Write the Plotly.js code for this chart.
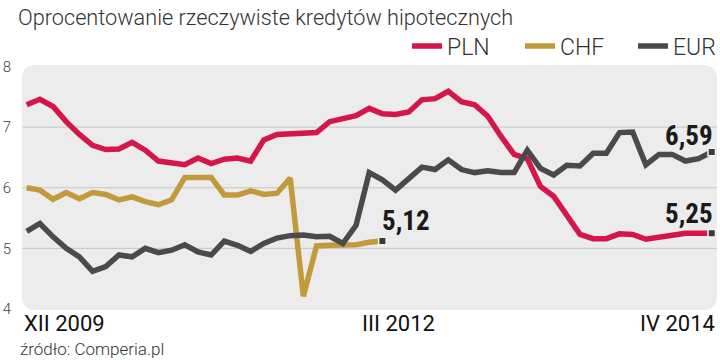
<!DOCTYPE html>
<html><head><meta charset="utf-8">
<script src="https://cdn.plot.ly/plotly-3.0.1.min.js"></script>
<style>html,body{margin:0;padding:0;background:#fff}#chart{width:720px;height:360px}</style>
</head><body><div id="chart"></div>
<script>
const titleText = 'Oprocentowanie rzeczywiste kredytów hipotecznych';
const sourceText = 'źródło: Comperia.pl';
const seriesNames = ['PLN', 'CHF', 'EUR'];
const seriesColors = ['#d4164a', '#c19a3b', '#4a4a4c'];

// monthly, XII 2009 .. IV 2014
const pln = [7.37, 7.46, 7.34, 7.09, 6.88, 6.70, 6.63, 6.64, 6.75, 6.62,
             6.44, 6.42, 6.38, 6.49, 6.40, 6.47, 6.49, 6.44, 6.79, 6.88,
             6.89, 6.88, 6.91, 7.09, 7.13, 7.19, 7.31, 7.22, 7.21, 7.25,
             7.45, 7.47, 7.59, 7.42, 7.37, 7.18, 6.85, 6.55, 6.48, 6.02,
             5.86, 5.53, 5.23, 5.16, 5.16, 5.24, 5.23, 5.15, 5.18, 5.21,
             5.25, 5.25, 5.25];
const chf = [6.00, 5.96, 5.81, 5.92, 5.82, 5.92, 5.89, 5.80, 5.85, 5.77,
             5.72, 5.80, 6.17, 6.17, 6.17, 5.88, 5.88, 5.95, 5.89, 5.91,
             6.16, 4.21, 5.04, 5.05, 5.06, 5.06, 5.10, 5.12];
const eur = [5.28, 5.41, 5.19, 5.00, 4.86, 4.62, 4.70, 4.89, 4.86, 5.00,
             4.93, 4.97, 5.06, 4.94, 4.89, 5.12, 5.05, 4.95, 5.08, 5.17,
             5.21, 5.22, 5.19, 5.20, 5.08, 5.38, 6.25, 6.13, 5.96, 6.14,
             6.34, 6.30, 6.46, 6.30, 6.25, 6.28, 6.25, 6.25, 6.62, 6.32,
             6.21, 6.37, 6.36, 6.57, 6.57, 6.91, 6.92, 6.38, 6.55, 6.55,
             6.44, 6.48, 6.59];
const xTickIdx = [0, 27, 52];
const xTickText = ['XII 2009', 'III 2012', 'IV 2014'];
const yTicks = [4, 5, 6, 7, 8];
const gridVals = [5, 6, 7];

const FONT_C = '"Roboto Condensed", "Liberation Sans Narrow", "DejaVu Sans Condensed", Roboto, sans-serif';
const FONT_R = 'Roboto, "Open Sans", sans-serif';
const idx = arr => arr.map((_, i) => i);
const fmt = v => v.toFixed(2).replace('.', ',');

const seriesData = [pln, chf, eur];
const traces = seriesData.map((d, k) => ({
  type: 'scatter', mode: 'lines', name: seriesNames[k],
  x: idx(d), y: d,
  line: {color: seriesColors[k], width: 5.5},
  hoverinfo: 'skip'
}));
const ends = [chf, eur, pln];
traces.push({
  type: 'scatter', mode: 'markers', showlegend: false, hoverinfo: 'skip',
  x: ends.map(d => d.length - 1), y: ends.map(d => d[d.length - 1]),
  marker: {symbol: 'square', size: 7.5, color: '#3a3a3a', line: {color: '#f4f4f4', width: 1.5}}
});

const W = 695, H = 245, R = 14;
const rx = R / W, ry = R / H;
const bgPath = `M ${rx},0 L ${1-rx},0 Q 1,0 1,${ry} L 1,${1-ry} Q 1,1 ${1-rx},1 L ${rx},1 Q 0,1 0,${1-ry} L 0,${ry} Q 0,0 ${rx},0 Z`;

const shapes = [{type: 'path', xref: 'paper', yref: 'paper', path: bgPath,
  fillcolor: '#ececec', line: {width: 0}, layer: 'below'}];
gridVals.forEach(v => shapes.push({type: 'line', xref: 'paper', yref: 'y',
  x0: 0, x1: 1, y0: v, y1: v, line: {color: '#c6c6c6', width: 1}, layer: 'below'}));

const annotations = [];
const valFont = {family: FONT_C, size: 27, color: '#1a1a1a', weight: 700};
annotations.push({x: chf.length - 1, y: chf[chf.length - 1], text: fmt(chf[chf.length - 1]),
  showarrow: false, xanchor: 'center', yanchor: 'middle', xshift: 24, yshift: 20, font: valFont});
annotations.push({x: eur.length - 1, y: eur[eur.length - 1], text: fmt(eur[eur.length - 1]),
  showarrow: false, xanchor: 'right', yanchor: 'middle', xshift: 3, yshift: 16, font: valFont});
annotations.push({x: pln.length - 1, y: pln[pln.length - 1], text: fmt(pln[pln.length - 1]),
  showarrow: false, xanchor: 'right', yanchor: 'middle', xshift: 3, yshift: 19, font: valFont});
// x labels
const xAnch = ['left', 'center', 'right'];
const xSh = [-5, 16, 5];
xTickIdx.forEach((v, i) => annotations.push({x: v, xref: 'x', y: -0.057, yref: 'paper',
  text: xTickText[i], showarrow: false, xanchor: xAnch[i], yanchor: 'middle', xshift: xSh[i],
  font: {family: FONT_R, size: 22, color: '#111', weight: 400}}));
annotations.push({x: 0, xref: 'paper', xshift: -4, y: -0.159, yref: 'paper', text: sourceText,
  showarrow: false, xanchor: 'left', yanchor: 'middle',
  font: {family: FONT_R, size: 17, color: '#333', weight: 300}});

const layout = {
  width: 720, height: 360,
  margin: {l: 22, r: 3, t: 65, b: 50, pad: 0, autoexpand: false},
  paper_bgcolor: '#ffffff', plot_bgcolor: 'rgba(0,0,0,0)',
  font: {family: FONT_R, color: '#333'},
  title: {text: titleText, x: 18 / 720, xref: 'container', xanchor: 'left',
    y: 1 - 17 / 360, yref: 'container', yanchor: 'middle',
    font: {family: FONT_R, size: 21.7, color: '#333', weight: 300}},
  showlegend: true,
  legend: {orientation: 'h', x: 1 + 29 / 695, xanchor: 'right', y: 1 + 19 / 245, yanchor: 'middle',
    font: {family: FONT_R, size: 23, color: '#333', weight: 300}, itemwidth: 30,
    entrywidth: 68, entrywidthmode: 'pixels', bgcolor: 'rgba(0,0,0,0)'},
  xaxis: {range: [-0.357, 52.40], showgrid: false, zeroline: false, showline: false,
    showticklabels: false, ticks: '', fixedrange: true},
  yaxis: {range: [3.983, 8.025], tickvals: yTicks, ticktext: yTicks.map(String),
    showgrid: false, zeroline: false, showline: false, ticks: '',
    tickfont: {family: FONT_R, size: 15, color: '#444', weight: 300}, ticklabelstandoff: 10, fixedrange: true},
  shapes: shapes,
  annotations: annotations
};
Plotly.newPlot('chart', traces, layout, {displayModeBar: false, staticPlot: true});
</script></body></html>
